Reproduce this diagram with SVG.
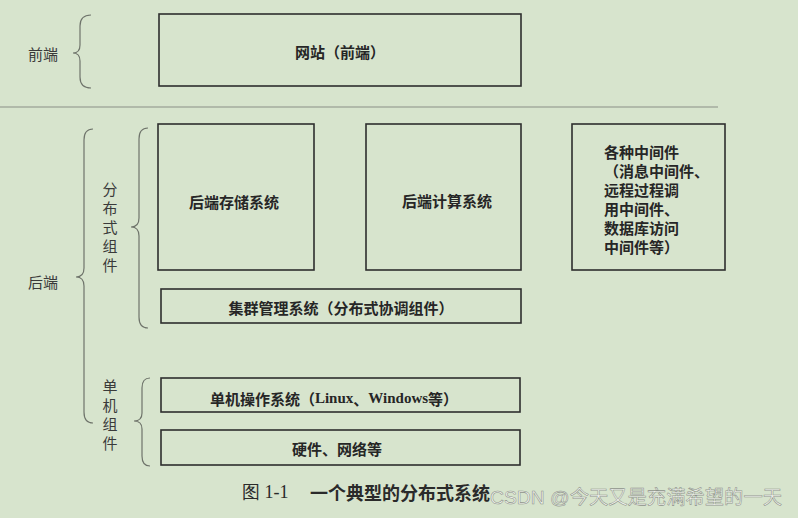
<svg xmlns="http://www.w3.org/2000/svg" width="798" height="518" viewBox="0 0 798 518">
<style>
.bg{fill:#d7e4cd}
.box{fill:none;stroke:#2e2e2e;stroke-width:1.6}
.brace{fill:none;stroke:#6f746b;stroke-width:1.2}
.sep{stroke:#8a8f86;stroke-width:1}
.t{font-family:"Noto Sans CJK SC","Liberation Serif",serif;font-size:15px;fill:#262626;dominant-baseline:central}
.tb{font-weight:bold}
.side{font-family:"Noto Sans CJK SC",sans-serif;font-size:15px;fill:#3a3a3a;dominant-baseline:central;text-anchor:middle}
.mid{text-anchor:middle}
.cap{font-family:"Noto Sans CJK SC","Liberation Serif",serif;font-size:18px;fill:#2a2a2a;dominant-baseline:central}
.wm{font-family:"Liberation Sans","Noto Sans CJK SC",sans-serif;font-size:19px;fill:#f1f4ee;stroke:#8d9289;stroke-width:0.55;dominant-baseline:central}
</style>
<rect class="bg" x="0" y="0" width="798" height="518"/>
<line class="sep" x1="0" y1="107" x2="718" y2="107"/>

<g id="label-frontend">
<text class="side" x="43" y="53">前端</text>
</g>
<g id="label-backend">
<text class="side" x="43" y="281">后端</text>
</g>
<g id="label-distributed">
<text class="side" x="110" y="188">分</text>
<text class="side" x="110" y="207">布</text>
<text class="side" x="110" y="226">式</text>
<text class="side" x="110" y="245">组</text>
<text class="side" x="110" y="264">件</text>
</g>
<g id="label-single">
<text class="side" x="110" y="385">单</text>
<text class="side" x="110" y="404">机</text>
<text class="side" x="110" y="423">组</text>
<text class="side" x="110" y="442">件</text>
</g>

<g id="connectors">
<path class="brace" d="M91,15 Q80,15 80,26 L80,45 Q80,53 73,53 Q80,53 80,61 L80,77 Q80,88 91,88"/>
<path class="brace" d="M93,129 Q84,129 84,140 L84,268 Q84,277 76,277 Q84,277 84,286 L84,412 Q84,423 93,423"/>
<path class="brace" d="M148,128 Q139,128 139,139 L139,218 Q139,227 131,227 Q139,227 139,236 L139,317 Q139,328 148,328"/>
<path class="brace" d="M150,378 Q142,378 142,388 L142,413 Q142,421 134,421 Q142,421 142,429 L142,456 Q142,466 150,466"/>
</g>

<g id="node-website">
<rect class="box" x="159" y="14" width="362" height="72"/>
<text class="t tb mid" x="340" y="51">网站（前端）</text>
</g>
<g id="node-storage">
<rect class="box" x="158" y="124" width="156" height="146"/>
<text class="t tb mid" x="234" y="201">后端存储系统</text>
</g>
<g id="node-compute">
<rect class="box" x="366" y="124" width="155" height="146"/>
<text class="t tb mid" x="447" y="200">后端计算系统</text>
</g>
<g id="node-middleware">
<rect class="box" x="572" y="124" width="153" height="146"/>
<text class="t tb" x="604" y="151">各种中间件</text>
<text class="t tb" x="604" y="170">（消息中间件、</text>
<text class="t tb" x="604" y="189">远程过程调</text>
<text class="t tb" x="604" y="208">用中间件、</text>
<text class="t tb" x="604" y="227">数据库访问</text>
<text class="t tb" x="604" y="246">中间件等）</text>
</g>
<g id="node-cluster">
<rect class="box" x="161" y="289" width="360" height="34"/>
<text class="t tb mid" x="341" y="307">集群管理系统（分布式协调组件）</text>
</g>
<g id="node-os">
<rect class="box" x="161" y="378" width="359" height="34"/>
<text class="t tb mid" x="334" y="398">单机操作系统（<tspan font-family="Liberation Serif">Linux</tspan>、<tspan font-family="Liberation Serif">Windows</tspan>等）</text>
</g>
<g id="node-hardware">
<rect class="box" x="161" y="430" width="359" height="35"/>
<text class="t tb mid" x="337" y="448">硬件、网络等</text>
</g>

<g id="caption">
<text class="cap" x="242" y="492"><tspan font-family="Liberation Serif">图 1-1</tspan><tspan x="310" font-weight="bold">一个典型的分布式系统</tspan></text>
</g>
<g id="watermark">
<text class="wm" x="490" y="497" textLength="292" lengthAdjust="spacingAndGlyphs">CSDN @今天又是充满希望的一天</text>
</g>
</svg>
